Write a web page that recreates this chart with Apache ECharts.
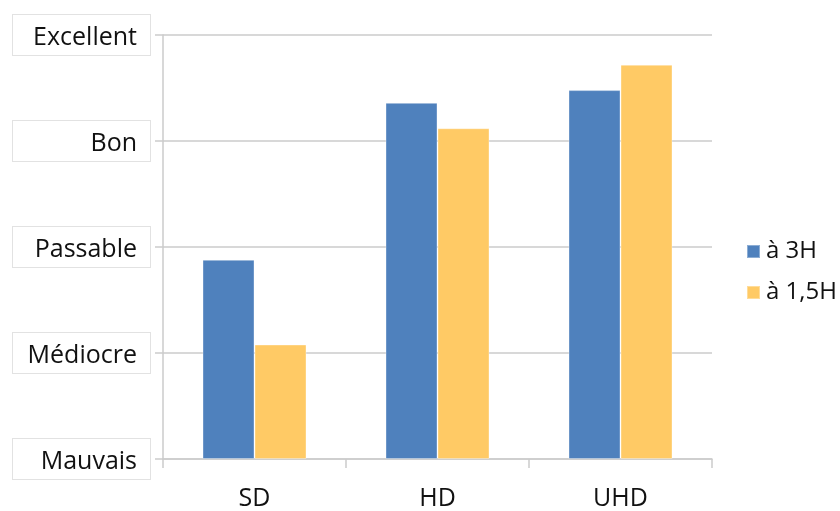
<!DOCTYPE html>
<html>
<head>
<meta charset="utf-8">
<script src="https://cdn.jsdelivr.net/npm/echarts@6/dist/echarts.min.js"></script>
<style>
  html, body { margin: 0; padding: 0; background: #ffffff; }
  #chart { width: 840px; height: 511px; }
</style>
</head>
<body>
<div id="chart"></div>
<script>
// Formats compared along the x axis
const formats = ['SD', 'HD', 'UHD'];
// Quality scale, from 0 (Mauvais) to 4 (Excellent)
const qualityLabels = ['Mauvais', 'Médiocre', 'Passable', 'Bon', 'Excellent'];
// Mean rating per format, for each viewing distance
const seriesNames = ['à 3H', 'à 1,5H'];
const scoresAt3H = [1.88, 3.36, 3.48];
const scoresAt15H = [1.08, 3.12, 3.72];

const FONT = '"Open Sans", "Noto Sans", sans-serif';
const gridColor = '#cbcbcb';
const textColor = '#111111';

const chart = echarts.init(document.getElementById('chart'), null, { renderer: 'canvas' });

chart.setOption({
  animation: false,
  backgroundColor: '#ffffff',
  textStyle: { fontFamily: FONT },
  grid: { left: 163, right: 128, top: 35, bottom: 51, containLabel: false },
  legend: {
    orient: 'vertical',
    left: 741,
    top: 234,
    itemWidth: 13,
    itemHeight: 13,
    itemGap: 16,
    icon: 'rect',
    data: seriesNames,
    textStyle: {
      fontFamily: FONT,
      fontSize: 24,
      lineHeight: 25,
      color: textColor,
      padding: [0, 0, 0, 1]
    }
  },
  xAxis: {
    type: 'category',
    data: formats,
    boundaryGap: true,
    axisLine: { show: true, lineStyle: { color: gridColor, width: 1.5 } },
    axisTick: { show: true, length: 9, lineStyle: { color: gridColor, width: 1.5 } },
    axisLabel: {
      margin: 27,
      fontFamily: FONT,
      fontSize: 25,
      color: textColor
    },
    splitLine: { show: false }
  },
  yAxis: {
    type: 'value',
    min: 0,
    max: 4,
    interval: 1,
    axisLine: { show: true, lineStyle: { color: gridColor, width: 1.5 } },
    axisTick: { show: true, length: 8, lineStyle: { color: gridColor, width: 1.5 } },
    splitLine: { show: true, lineStyle: { color: gridColor, width: 1.5 } },
    axisLabel: {
      margin: 13,
      align: 'right',
      verticalAlign: 'middle',
      width: 124,
      padding: [0, 13, 0, 0],
      backgroundColor: '#ffffff',
      borderColor: '#e2e2e2',
      borderWidth: 1,
      formatter: function (v) {
        const name = qualityLabels[Math.round(v)];
        return name ? '{q|' + name + '}' : '';
      },
      rich: {
        q: {
          fontFamily: FONT,
          fontSize: 25,
          color: textColor,
          height: 40,
          lineHeight: 40,
          padding: [6, 0, 0, 0],
          align: 'right'
        }
      }
    }
  },
  series: [
    {
      name: seriesNames[0],
      type: 'bar',
      data: scoresAt3H,
      barWidth: 52,
      barGap: '0%',
      itemStyle: { color: '#4f81bd', borderColor: 'rgba(255,255,255,0.35)', borderWidth: 1 }
    },
    {
      name: seriesNames[1],
      type: 'bar',
      data: scoresAt15H,
      barWidth: 52,
      barGap: '0%',
      itemStyle: { color: '#ffca65', borderColor: 'rgba(255,255,255,0.35)', borderWidth: 1 }
    }
  ]
});
</script>
</body>
</html>
